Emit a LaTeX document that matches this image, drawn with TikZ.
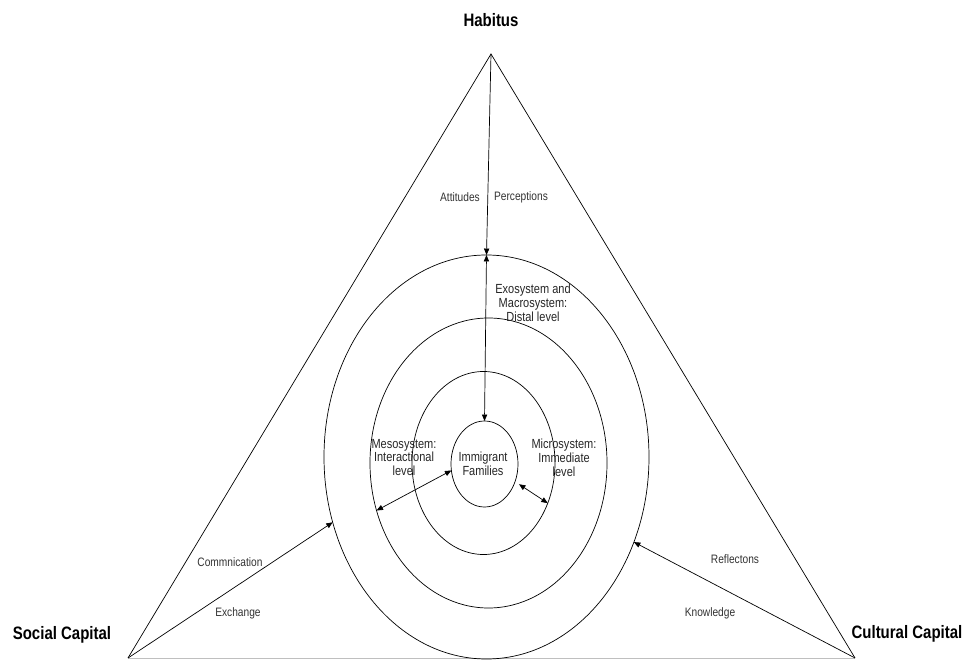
\documentclass[tikz,border=0pt]{standalone}
\usepackage{fontspec}
\setmainfont{Liberation Sans}
\usetikzlibrary{arrows.meta,shapes.geometric}

\begin{document}
\begin{tikzpicture}[
    x=0.03cm, y=0.03cm,
    capital/.style={font=\fontsize{12.8}{15}\selectfont\bfseries, yscale=1.2, transform shape},
    tie/.style={font=\fontsize{8.7}{10}\selectfont, text=black!80, yscale=1.2, transform shape},
    level/.style={font=\fontsize{9.4}{9.8}\selectfont, align=center, text=black!85,
                  yscale=1.2, transform shape},
    ring/.style={ellipse, draw, line width=0.6pt, inner sep=0pt, outer sep=0pt},
    link/.style={line width=0.6pt, -{Triangle[length=5.5pt,width=4.5pt]}},
    twoway/.style={line width=0.6pt,
                   {Triangle[length=5.5pt,width=4.5pt]}-{Triangle[length=5.5pt,width=4.5pt]}}
]

\useasboundingbox (0,0) rectangle (967,660);

% corners of the triangle
\coordinate (hab) at (491,606);
\coordinate (soc) at (128,2);
\coordinate (cul) at (855,2);

\draw[line width=0.6pt] (soc) -- (hab) -- (cul);
\draw[black!25, line width=0.6pt] (soc) -- (cul);

% nested system levels
\node[ring, minimum width=9.75cm, minimum height=12.12cm] (exo) at (486.5,203) {};
\node[ring, minimum width=7.11cm, minimum height=8.7cm] (meso) at (488.5,197) {};
\node[ring, minimum width=4.29cm, minimum height=5.49cm] (micro) at (483.5,197) {};
\node[ring, minimum width=2.01cm, minimum height=2.58cm] (fam) at (484.5,196) {};

\node[capital] (habl) at (491,640) {Habitus};
\node[capital] (socl) at (62,25) {Social Capital};
\node[capital] (cull) at (907,26) {Cultural Capital};

\node[level] (faml) at (483,196.5) {Immigrant\\Families};
\node[level] (exol) at (533,357) {Exosystem and\\Macrosystem:\\Distal level};
\node[level] (mesol) at (404,202.5) {Mesosystem:\\Interactional\\level};
\node[level] (microl) at (564,202.5) {Microsystem:\\Immediate\\level};

\node[tie] (att) at (460,463) {Attitudes};
\node[tie] (perc) at (521,463) {Perceptions};
\node[tie] (comm) at (230,98) {Commnication};
\node[tie] (exch) at (238,47) {Exchange};
\node[tie] (refl) at (735,101) {Reflectons};
\node[tie] (know) at (710,47) {Knowledge};

% connectors
\draw[link] (hab) -- (exo.north);
\draw[twoway] (exo.north) -- (fam.north);
\draw[twoway] (meso.203) -- (fam.191);
\draw[twoway, shorten <=4pt] (fam.330) -- (micro.328);
\draw[link] (soc) -- (exo.203);
\draw[link] (cul) -- (exo.330);

\end{tikzpicture}
\end{document}
